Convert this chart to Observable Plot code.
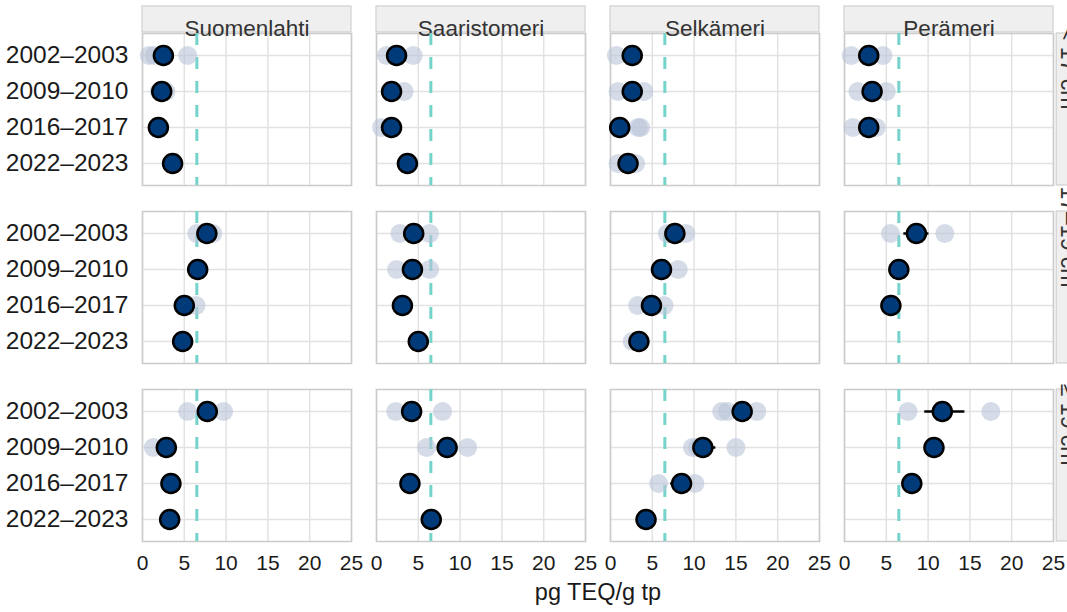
<!DOCTYPE html>
<html><head><meta charset="utf-8">
<script src="https://cdn.jsdelivr.net/npm/d3@7"></script>
<script src="https://cdn.jsdelivr.net/npm/@observablehq/plot@0.6"></script>
<style>html,body{margin:0;padding:0;background:#fff;overflow:hidden;width:1067px;height:612px}
#chart svg{max-width:none !important;}</style>
</head><body><div id="chart"></div>
<script>
const regions = ["Suomenlahti", "Saaristomeri", "Selkämeri", "Perämeri"];
const sizes = ["< 17 cm", "17–19 cm", "≥ 19 cm"];
const periods = ["2002–2003", "2009–2010", "2016–2017", "2022–2023"];
const xTicks = [0, 5, 10, 15, 20, 25];
const threshold = 6.5;
const xLabel = "pg TEQ/g tp";

// means: one row per region, one value per period
const meanSmall = [[2.5, 2.3, 1.9, 3.6], [2.4, 1.8, 1.8, 3.7], [2.6, 2.6, 1.1, 2.1], [2.9, 3.3, 2.9, null]];
const meanMid   = [[7.7, 6.6, 5.0, 4.8], [4.45, 4.3, 3.1, 5.0], [7.7, 6.1, 4.9, 3.4], [8.6, 6.5, 5.55, null]];
const meanLarge = [[7.75, 2.85, 3.4, 3.25], [4.2, 8.45, 4.0, 6.55], [15.75, 11.05, 8.5, 4.25], [11.7, 10.7, 8.05, null]];

// individual samples: [regionIndex, periodIndex, value]
const samplesSmall = [[0,0,0.8],[0,0,1.4],[0,0,5.4],[0,1,2.0],[0,1,2.8],
  [1,0,1.2],[1,0,4.4],[1,1,3.3],[1,2,0.6],
  [2,0,0.7],[2,1,0.9],[2,1,4.0],[2,2,3.3],[2,2,3.6],[2,3,0.9],[2,3,3.0],
  [3,0,0.8],[3,0,4.6],[3,1,1.6],[3,1,5.0],[3,2,1.0],[3,2,3.8]];
const samplesMid = [[0,0,6.5],[0,0,8.4],[0,2,6.4],
  [1,0,2.8],[1,0,6.35],[1,1,2.4],[1,1,6.35],
  [2,0,6.8],[2,0,9.0],[2,1,8.1],[2,2,3.25],[2,2,6.4],[2,3,2.6],
  [3,0,5.5],[3,0,12.0]];
const samplesLarge = [[0,0,5.4],[0,0,9.7],[0,1,1.3],
  [1,0,2.3],[1,0,7.9],[1,1,6.0],[1,1,10.9],
  [2,0,13.3],[2,0,14.0],[2,0,17.5],[2,1,9.8],[2,1,10.4],[2,1,15.0],[2,2,5.75],[2,2,10.1],
  [3,0,7.6],[3,0,17.5]];

// visible intervals: [sizeIndex, regionIndex, periodIndex, low, high]
const errorBars = [[1,3,0,7.1,10.1],[2,3,0,9.6,14.4],[2,2,1,10.0,12.6],[2,2,2,7.2,9.4]];

const meanTables = [meanSmall, meanMid, meanLarge];
const sampleTables = [samplesSmall, samplesMid, samplesLarge];
const means = [];
meanTables.forEach((tab, s) => tab.forEach((row, r) => row.forEach((v, p) => {
  if (v != null) means.push({size: sizes[s], region: regions[r], period: periods[p], value: v});
})));
const samples = [];
sampleTables.forEach((tab, s) => tab.forEach(([r, p, v]) =>
  samples.push({size: sizes[s], region: regions[r], period: periods[p], value: v})));
const errors = errorBars.map(([s, r, p, lo, hi]) =>
  ({size: sizes[s], region: regions[r], period: periods[p], lo, hi}));

const W = 1090, H = 612, mL = 141, mR = 37, mT = 32, mB = 69;
const fxPad = 0.107, fyPad = 0.145;
const fxBand = (W - mL - mR) / (regions.length - fxPad) * (1 - fxPad);
const fyBand = (H - mT - mB) / (sizes.length - fyPad) * (1 - fyPad);
const stripH = 27;
const font = "'Liberation Sans', Arial, Helvetica, sans-serif";

const plot = Plot.plot({
  width: W, height: H,
  marginLeft: mL, marginRight: mR, marginTop: mT, marginBottom: mB,
  style: {fontFamily: font, background: "#fff", color: "#1a1a1a", maxWidth: "none"},
  fx: {domain: regions, axis: null, paddingInner: fxPad, paddingOuter: 0},
  fy: {domain: sizes, axis: null, paddingInner: fyPad, paddingOuter: 0},
  x: {domain: [0, 25], ticks: xTicks},
  y: {domain: periods, type: "point", padding: 0.6},
  marks: [
    Plot.gridX(xTicks, {stroke: "#e2e2e2", strokeOpacity: 1, strokeWidth: 1.5}),
    Plot.gridY(periods, {stroke: "#e2e2e2", strokeOpacity: 1, strokeWidth: 1.5}),
    Plot.frame({stroke: "#cbcbcb", strokeWidth: 1.5}),
    // top strips
    Plot.rect(regions, {fx: d => d, fy: () => sizes[0], fill: "#efefef", stroke: "#d0d0d0", strokeWidth: 1.2,
      insetTop: -stripH, insetBottom: fyBand}),
    Plot.text(regions, {fx: d => d, fy: () => sizes[0], text: d => d, frameAnchor: "top", dy: -stripH / 2,
      fontSize: 22.5, fill: "#333"}),
    // right strips
    Plot.rect(sizes, {fx: () => regions[3], fy: d => d, fill: "#efefef", stroke: "#d0d0d0", strokeWidth: 1.2,
      insetLeft: fxBand + 3, insetRight: -(stripH + 3)}),
    Plot.text(sizes, {fx: () => regions[3], fy: d => d, text: d => d, frameAnchor: "right", dx: 1 + stripH / 2,
      rotate: 90, fontSize: 23, fill: "#333"}),
    Plot.ruleX([threshold], {stroke: "#74d3cb", strokeWidth: 3, strokeDasharray: "12,12"}),
    Plot.dot(samples, {x: "value", y: "period", fx: "region", fy: "size", r: 9.5,
      fill: "#b9c5d8", fillOpacity: 0.6, stroke: "none"}),
    Plot.ruleY(errors, {y: "period", x1: "lo", x2: "hi", fx: "region", fy: "size", stroke: "#000", strokeWidth: 2.5}),
    Plot.dot(means, {x: "value", y: "period", fx: "region", fy: "size", r: 9.5,
      fill: "#003a78", stroke: "#000", strokeWidth: 2.5}),
    Plot.axisY({tickSize: 0, tickPadding: 14, fontSize: 24.5, label: null, fill: "#1a1a1a"}),
    Plot.axisX({ticks: xTicks, tickSize: 0, tickPadding: 14, fontSize: 21, label: null, fill: "#1a1a1a", tickFormat: d => d}),
    Plot.text([xLabel], {facet: "super", frameAnchor: "bottom", dy: 58, text: d => d, fontSize: 23.5, fill: "#1a1a1a"})
  ]
});
document.getElementById("chart").appendChild(plot);
</script>
</body></html>
